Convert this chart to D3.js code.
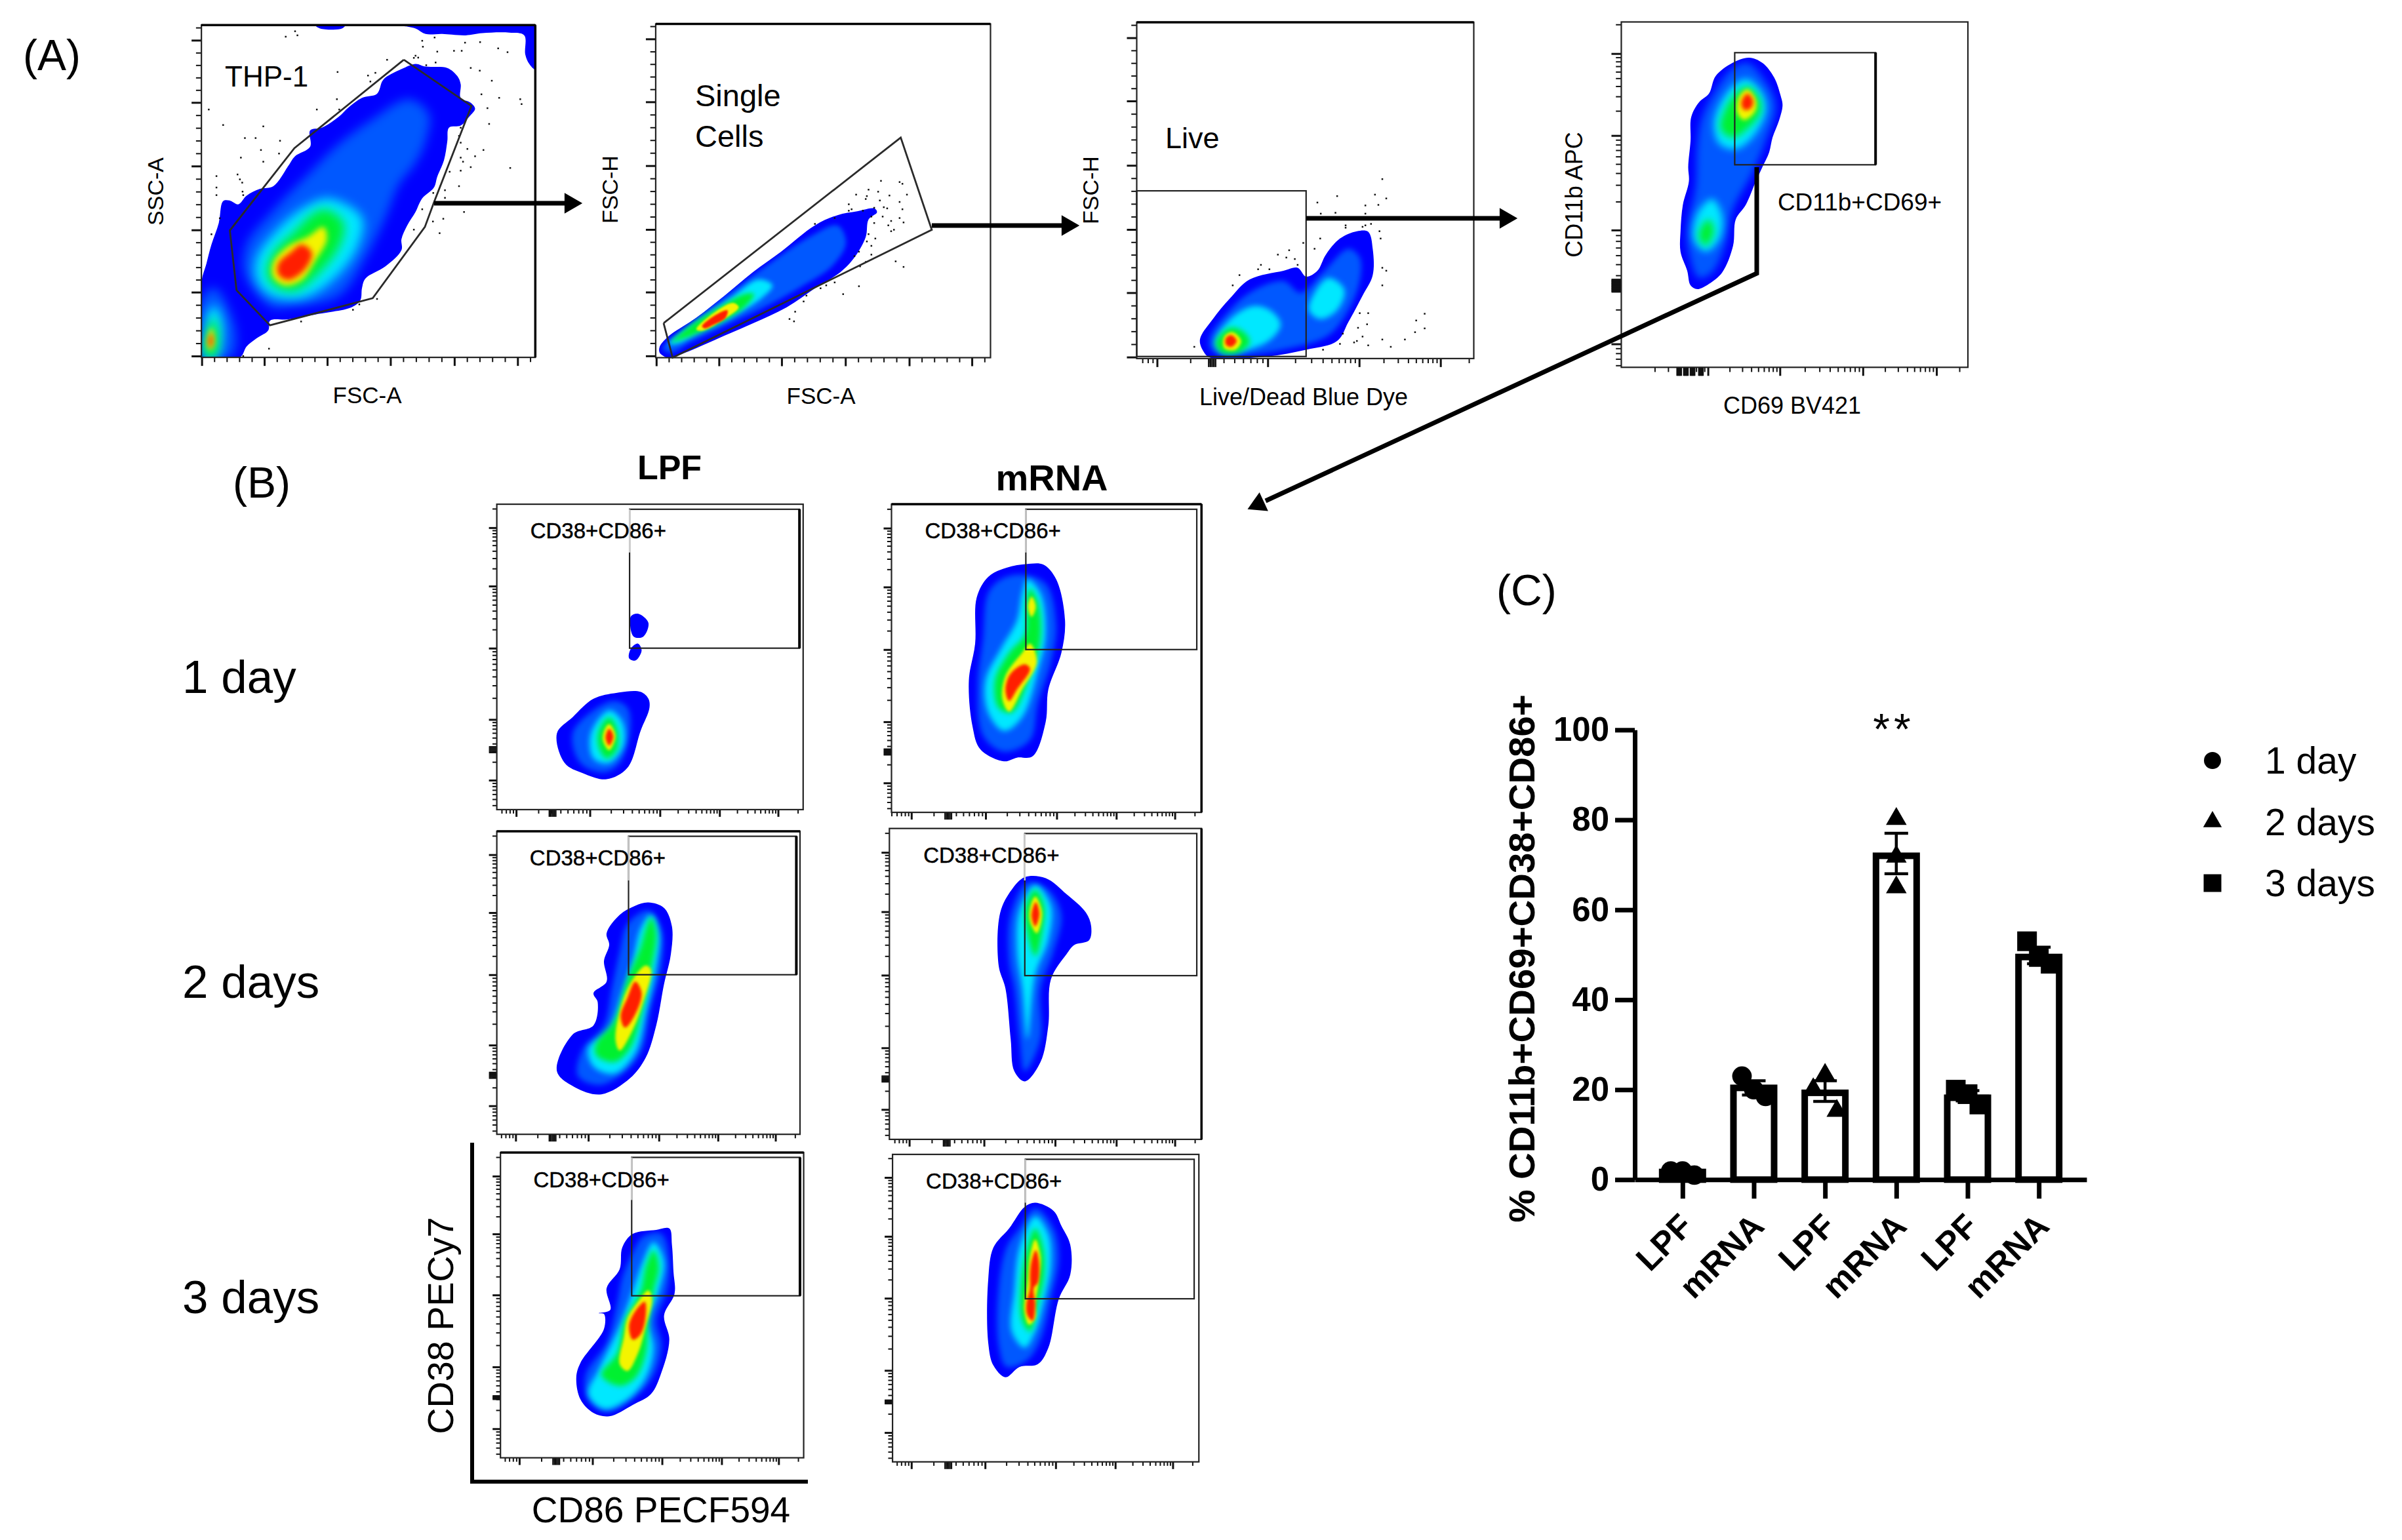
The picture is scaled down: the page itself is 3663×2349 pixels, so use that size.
<!DOCTYPE html>
<html>
<head>
<meta charset="utf-8">
<title>THP-1 gating and CD38+CD86+ activation</title>
<script src="https://d3js.org/d3.v7.min.js"></script>
<style>
body{ margin:0; background:#fff; }
text{ font-family:"Liberation Sans",Arial,sans-serif; fill:#000; }
</style>
</head>
<body>
<svg id="fig" width="3663" height="2349"></svg>
<script>
// bar chart (C)
const barCategories = ["LPF","mRNA","LPF","mRNA","LPF","mRNA"];
const barDays = ["1 day","1 day","2 days","2 days","3 days","3 days"];
const barMeans = [1.7,20.4,19.3,72,18.2,49.5];
const barErrLow = [1.3,18.8,17.4,68,17.5,48];
const barErrHigh = [2.1,22,22,77,19.8,51.7];
const barPoints = [[1.9,1.9,1],[23,20,18.5],[23.3,20.1,15.3],[80.2,71.8,65],[20,19,16.7],[53,49.5,48]];
const barSlots = [[-1,0,1],[-1,0,1],[0,-1,1],[0,0,0],[-1,0,1],[-1,0,1]];
const yTicks = [0,20,40,60,80,100];
const legendDays = ["1 day","2 days","3 days"];

const cropGate1 = [200,0,800,650];
const cropGate23 = [950,0,1350,700];
const cropGate4 = [2300,0,800,700];
const cropB12 = [650,680,1250,1100];
const cropB3 = [650,1700,1250,649];

const thp1Gate = [[815,220],[1017,390],[905,745],[878,835],[722,1097],[415,1197],[315,1068],[295,848],[488,545],[815,220]];
const singleGate = [[72,1104],[492,470],[547,785],[88,1222],[72,1104]];

const thp1Contours = [
 [[[760,285],[815,250],[850,235],[880,245],[945,250],[975,280],[985,310],[985,360],[1015,378],[1028,400],[1010,430],[985,462],[950,470],[945,520],[935,590],[915,650],[905,690],[870,730],[850,780],[825,830],[808,880],[808,920],[760,980],[700,1025],[690,1060],[685,1105],[660,1130],[560,1155],[470,1175],[415,1180],[410,1215],[375,1245],[345,1275],[325,1315],[210,1315],[210,1040],[225,970],[240,900],[262,820],[275,740],[295,738],[320,752],[345,720],[385,695],[425,685],[470,610],[490,575],[535,540],[535,480],[570,470],[620,430],[650,395],[690,360],[735,345],[750,300]],
  [[550,92],[640,92],[630,105],[565,105]],
  [[805,92],[1208,92],[1208,255],[1190,235],[1178,200],[1175,130],[1130,120],[1050,122],[1000,130],[930,125],[880,125],[850,105]]],
 [[[830,365],[890,420],[880,520],[850,600],[800,680],[760,800],[700,950],[620,1090],[470,1130],[420,1130],[340,1010],[345,900],[420,780],[530,640],[620,530],[720,440]],
  [[250,1060],[310,1200],[310,1290],[295,1315],[210,1315],[210,1100]]],
 [[[590,730],[690,800],[680,900],[620,1010],[520,1095],[420,1090],[375,1030],[375,950],[440,840],[520,760]],
  [[250,1125],[272,1180],[270,1270],[255,1315],[215,1315],[222,1220],[230,1150]]],
 [[[580,770],[635,820],[625,900],[565,1000],[490,1070],[425,1050],[405,1000],[425,930],[490,850],[540,790]],
  [[245,1170],[260,1230],[250,1310],[222,1310],[225,1240]]],
 [[[575,835],[585,880],[550,960],[510,1030],[460,1050],[425,1020],[425,965],[470,905],[530,870]],
  [[240,1205],[248,1260],[236,1290],[228,1260]]],
 [[[510,900],[540,930],[520,990],[470,1030],[440,1010],[440,970],[480,925]],
  [[240,1225],[243,1262],[236,1280],[232,1255]]]
];
const singleContours = [
 [[[65,1185],[80,1150],[130,1085],[180,1010],[230,930],[280,860],[340,770],[380,735],[415,722],[445,712],[450,725],[435,750],[430,810],[410,880],[385,930],[340,985],[290,1050],[230,1105],[170,1155],[110,1205],[85,1222],[78,1222],[65,1205]]],
 [[[70,1190],[100,1140],[170,1030],[260,900],[330,810],[380,770],[395,830],[370,910],[320,975],[260,1040],[190,1105],[120,1170],[85,1205]]],
 [[[80,1175],[130,1100],[190,1020],[240,955],[265,975],[245,1020],[190,1085],[140,1130],[95,1175]]],
 [[[85,1170],[125,1105],[170,1050],[215,1005],[232,1005],[215,1050],[170,1105],[130,1140],[95,1165]]],
 [[[130,1125],[160,1070],[195,1035],[205,1050],[175,1095],[140,1130]]],
 [[[140,1115],[165,1075],[185,1060],[182,1085],[160,1110],[145,1122]]]
];
const liveContours = [
 [[[1022,1160],[1045,1090],[1075,1020],[1110,955],[1170,925],[1195,915],[1210,945],[1230,925],[1245,870],[1270,815],[1300,790],[1320,792],[1328,850],[1328,940],[1310,1010],[1285,1100],[1265,1165],[1210,1195],[1140,1218],[1040,1222],[1028,1200]]],
 [[[1040,1150],[1070,1070],[1110,1000],[1170,960],[1200,1000],[1240,930],[1285,850],[1305,880],[1305,960],[1285,1060],[1250,1145],[1180,1190],[1060,1215],[1040,1190]]],
 [[[1052,1150],[1085,1075],[1120,1045],[1150,1065],[1165,1110],[1140,1170],[1065,1205],[1050,1180]],
  [[1250,950],[1278,990],[1265,1060],[1235,1090],[1215,1060],[1225,1000]]],
 [[[1050,1170],[1075,1120],[1100,1135],[1110,1170],[1090,1205],[1060,1205]]],
 [[[1065,1150],[1080,1135],[1095,1165],[1085,1195],[1065,1190]]],
 [[[1068,1155],[1078,1145],[1087,1165],[1078,1185],[1068,1178]]]
];
const cd69Contours = [
 [[[720,197],[760,215],[795,265],[815,330],[820,360],[810,410],[790,470],[780,520],[760,570],[740,620],[710,700],[680,750],[672,840],[640,930],[600,970],[565,988],[545,975],[535,925],[515,860],[515,790],[522,700],[540,620],[538,570],[545,480],[547,400],[570,350],[600,320],[620,260],[670,215]]],
 [[[715,215],[770,280],[800,360],[770,480],[730,590],[670,720],[650,830],[610,930],[570,950],[540,860],[535,780],[560,640],[565,500],[580,400],[630,290],[670,235]]],
 [[[715,270],[760,320],[770,380],[730,470],[680,510],[630,490],[615,420],[640,340],[680,285]],
  [[610,680],[640,740],[630,820],[590,860],[555,820],[565,730]]],
 [[[715,295],[748,330],[755,380],[715,440],[670,470],[635,440],[650,370],[680,320]],
  [[600,750],[615,790],[590,840],[570,810],[580,770]]],
 [[[715,305],[740,340],[738,380],[705,410],[685,385],[690,330]]],
 [[[715,320],[732,345],[725,370],[705,375],[697,350]]]
];
const lpf1Contours = [
 [[[250,625],[280,590],[320,550],[365,537],[410,535],[425,550],[427,570],[410,620],[385,700],[345,725],[300,712],[265,690]],
  [[405,365],[425,385],[415,415],[397,415],[390,390],[392,370]],
  [[405,430],[412,445],[400,467],[388,462],[392,440]]],
 [[[280,625],[320,575],[360,555],[385,570],[390,620],[370,690],[340,710],[295,690]]],
 [[[350,575],[375,600],[378,650],[350,690],[320,680],[315,625]]],
 [[[350,590],[365,615],[365,660],[345,680],[330,655],[330,620]]],
 [[[350,605],[362,630],[350,662],[338,640],[342,615]]],
 [[[350,615],[358,632],[350,652],[343,634]]]
];
const mrna1Contours = [
 [[[1150,257],[1180,258],[1205,290],[1222,380],[1215,450],[1190,530],[1185,600],[1160,675],[1130,678],[1105,686],[1060,660],[1045,610],[1038,510],[1050,430],[1053,330],[1075,285],[1110,265]]],
 [[[1140,280],[1185,300],[1205,390],[1195,470],[1170,560],[1155,640],[1105,665],[1065,630],[1055,520],[1065,420],[1075,320],[1100,290]]],
 [[[1150,290],[1175,320],[1185,410],[1170,490],[1140,590],[1105,620],[1075,580],[1070,510],[1100,440],[1130,380],[1140,320]]],
 [[[1155,310],[1170,340],[1175,420],[1155,500],[1120,580],[1095,570],[1088,510],[1115,450],[1145,410],[1148,340]]],
 [[[1158,328],[1166,350],[1158,372],[1151,350]],
  [[1155,430],[1168,470],[1140,530],[1115,578],[1102,550],[1108,500],[1140,450]]],
 [[[1145,475],[1155,485],[1130,530],[1115,555],[1108,530],[1118,495]]]
];
const lpf2Contours = [
 [[[425,993],[455,1005],[470,1045],[468,1105],[455,1170],[440,1260],[420,1330],[390,1375],[335,1410],[285,1395],[250,1360],[280,1280],[320,1260],[328,1210],[320,1190],[345,1165],[340,1120],[350,1085],[345,1060],[370,1020],[400,1000]]],
 [[[425,1010],[450,1050],[450,1130],[430,1220],[410,1320],[370,1370],[330,1390],[290,1370],[300,1310],[340,1260],[355,1180],[370,1100],[385,1040]]],
 [[[430,1020],[445,1060],[440,1130],[420,1230],[400,1320],[360,1365],[320,1350],[310,1310],[350,1270],[375,1190],[395,1120],[410,1050]]],
 [[[430,1025],[440,1060],[430,1140],[415,1220],[390,1310],[360,1340],[325,1325],[325,1300],[360,1250],[385,1160],[410,1090],[420,1050]]],
 [[[420,1130],[430,1140],[415,1210],[395,1270],[370,1315],[362,1290],[375,1210],[395,1160]]],
 [[[400,1165],[412,1190],[398,1240],[380,1265],[372,1240],[385,1200]]]
];
const mrna2Contours = [
 [[[1145,938],[1185,940],[1225,975],[1262,1015],[1272,1045],[1268,1075],[1240,1085],[1225,1105],[1195,1160],[1190,1260],[1175,1340],[1145,1382],[1125,1360],[1118,1290],[1108,1180],[1095,1130],[1098,1015],[1120,965]]],
 [[[1150,950],[1190,965],[1215,1020],[1200,1100],[1175,1180],[1175,1290],[1145,1360],[1135,1290],[1125,1180],[1115,1120],[1118,1020]]],
 [[[1165,955],[1195,1000],[1190,1075],[1165,1150],[1150,1290],[1140,1180],[1130,1100],[1135,1010]]],
 [[[1165,965],[1182,1000],[1178,1060],[1165,1110],[1150,1060],[1147,1000]]],
 [[[1165,980],[1178,1015],[1168,1060],[1155,1035],[1155,1005]]],
 [[[1166,992],[1173,1018],[1165,1045],[1158,1022]]]
];
const lpf3Contours = [
 [[[465,420],[470,480],[473,580],[475,660],[455,740],[465,830],[450,950],[430,1030],[395,1070],[350,1112],[320,1100],[295,1050],[287,970],[295,915],[340,790],[340,735],[330,732],[352,720],[345,640],[370,570],[375,490],[395,440],[440,425]]],
 [[[450,440],[465,540],[460,650],[440,760],[450,850],[435,960],[400,1040],[345,1095],[310,1050],[305,960],[345,840],[365,700],[375,600],[395,510],[415,450]]],
 [[[435,470],[455,540],[445,650],[425,760],[435,860],[420,970],[385,1050],[340,1085],[310,1030],[330,940],[370,780],[395,650],[415,540]]],
 [[[435,500],[445,560],[435,650],[425,760],[420,880],[400,970],[370,1000],[335,960],[365,880],[380,760],[410,650],[420,560]]],
 [[[425,648],[432,680],[420,780],[405,880],[385,945],[370,920],[378,820],[385,750],[405,690]]],
 [[[418,690],[420,740],[410,810],[395,830],[388,780],[398,730]]]
];
const mrna3Contours = [
 [[[1165,325],[1200,355],[1215,410],[1232,480],[1232,590],[1210,680],[1190,860],[1170,920],[1135,930],[1108,968],[1085,925],[1075,840],[1075,610],[1085,490],[1115,420],[1145,340]]],
 [[[1165,345],[1200,420],[1210,530],[1195,680],[1175,830],[1150,905],[1110,930],[1095,850],[1095,640],[1110,490],[1135,420]]],
 [[[1165,375],[1190,440],[1195,560],[1180,700],[1165,800],[1145,860],[1120,800],[1125,650],[1135,490]]],
 [[[1165,420],[1180,490],[1182,590],[1170,700],[1155,800],[1140,760],[1138,620],[1150,490]]],
 [[[1165,460],[1175,520],[1172,610],[1165,700],[1165,750],[1153,775],[1144,720],[1150,620],[1155,520]]],
 [[[1166,500],[1172,540],[1170,620],[1162,640],[1165,700],[1160,760],[1150,740],[1148,700],[1155,640],[1155,590],[1158,540]]]
];

const thp1Dots = [[462,135],[490,115],[497,130],[870,150],[872,172],[907,138],[998,157],[1043,155],[1097,178],[1125,192],[915,190],[965,187],[988,187],[850,205],[858,212],[845,213],[910,230],[882,240],[765,220],[708,278],[730,268],[715,300],[617,265],[1015,250],[1042,260],[1078,297],[1047,347],[1100,360],[1163,365],[1167,383],[1065,398],[1070,456],[232,403],[555,403],[615,365],[622,403],[275,460],[395,465],[340,508],[372,508],[445,518],[388,552],[442,565],[328,580],[395,595],[255,648],[318,642],[325,660],[332,672],[255,690],[255,718],[333,705],[335,718],[985,470],[980,500],[985,525],[1005,548],[1053,552],[985,580],[1028,575],[992,595],[1015,615],[985,628],[1133,618],[952,632],[980,685],[938,700],[938,728],[903,710],[870,770],[995,780],[933,805],[902,815],[845,845],[922,858],[735,1100],[682,1120],[663,1140],[508,1183],[412,1283],[335,1310],[240,862],[265,803]];
const singleDots = [[457,618],[490,622],[495,628],[435,648],[413,665],[452,655],[432,670],[472,668],[503,665],[430,680],[455,685],[490,690],[400,698],[445,710],[462,708],[468,712],[495,715],[425,720],[405,715],[440,740],[460,740],[475,755],[490,745],[497,760],[470,770],[445,762],[480,785],[475,790],[435,800],[447,815],[432,825],[440,840],[418,860],[410,875],[440,870],[430,895],[420,910],[483,893],[497,912],[375,965],[360,975],[418,978],[350,985],[390,1005],[325,1010],[320,1030],[305,1065],[295,1090],[303,1098],[340,765],[375,745],[400,720]];
const liveDots = [[1345,612],[1332,665],[1352,678],[1265,670],[1230,692],[1338,700],[1315,702],[1315,730],[1262,727],[1236,730],[1335,745],[1280,770],[1280,778],[1325,765],[1315,770],[1310,775],[1340,790],[1342,815],[1235,815],[1225,850],[1205,830],[1180,855],[1160,870],[1190,885],[1175,880],[1195,905],[1130,905],[1145,920],[1125,920],[1092,940],[1080,975],[1345,915],[1352,925],[1345,975],[1420,1072],[1405,1095],[1420,1122],[1403,1135],[1320,1070],[1305,1070],[1318,1108],[1302,1120],[1275,1140],[1310,1150],[1300,1165],[1345,1160],[1385,1160],[1320,1180],[1360,1185],[1295,1170],[1270,1175],[1240,1195],[1012,1185]];

const levelColors = ["#0000ff","#0058ff","#00e8ff","#00f030","#f4f400","#ff1e00"];

// box, x major, y major, x/y scale kind, clusters of stacked ticks
const panels = [
 {crop:cropGate1, box:[210,1208,92,1315], xMajor:[211,398,586,775,966,1155], yMajor:[148,377,611,846,1075,1310], kind:"lin", xKind:"lin", contours:thp1Contours, dots:thp1Dots, blur:8, heavy:["top","right"], poly:thp1Gate},
 {crop:cropGate23, box:[58,651,82,1222], xMajor:[59,170,281,394,507,618], yMajor:[133,348,566,784,998,1216], kind:"lin", xKind:"lin", contours:singleContours, dots:singleDots, blur:3.5, heavy:["top"], poly:singleGate},
 {crop:cropGate23, box:[910,1507,76,1225], xMajor:[946,1142,1304,1448], yMajor:[129,345,565,784,1000,1220], kind:"lin", xKind:"log", xCluster:[1043], contours:liveContours, dots:liveDots, blur:4.5, heavy:["top"], gate:[910,1210,652,1218]},
 {crop:cropGate4, box:[338,1374,75,1255], xMajor:[597,812,1060,1280], yMajor:[183,463,786,1175], kind:"log", xKind:"log", xCluster:[510,530,550,575], yCluster:[960,975,990], contours:cd69Contours, blur:6, gate:[677,1098,180,563], thickGateRight:true},
 {crop:cropB12, box:[135,721,127,791], xMajor:[172,313,447,561,673], yMajor:[178,305,440,595,727], kind:"log", xKind:"log", xCluster:[241], yCluster:[660], contours:lpf1Contours, blur:4, gate:[389,714,138,440], fadeTo:232, thickGateRight:true, tag:[199,185]},
 {crop:cropB12, box:[890,1483,127,797], xMajor:[928,1070,1206,1320,1432], yMajor:[179,307,443,600,733], kind:"log", xKind:"log", xCluster:[998], yCluster:[665], contours:mrna1Contours, blur:4, heavy:["top","right"], gate:[1147,1474,138,443], fadeTo:232, tag:[954,185]},
 {crop:cropB12, box:[135,715,838,1497], xMajor:[171,310,445,558,668], yMajor:[889,1015,1150,1303,1435], kind:"log", xKind:"log", xCluster:[241], yCluster:[1368], contours:lpf2Contours, blur:4, heavy:["top"], gate:[387,708,849,1150], fadeTo:945, thickGateRight:true, tag:[198,896]},
 {crop:cropB12, box:[886,1483,832,1508], xMajor:[924,1067,1203,1320,1432], yMajor:[884,1013,1151,1309,1443], kind:"log", xKind:"log", xCluster:[995], yCluster:[1376], contours:mrna2Contours, blur:4, heavy:["right"], gate:[1145,1474,843,1152], fadeTo:945, tag:[951,890]},
 {crop:cropB3, box:[142,722,140,1265], xMajor:[178,318,451,565,674], yMajor:[227,440,665,930,1158], kind:"log", xKind:"log", xCluster:[248], yCluster:[1042], contours:lpf3Contours, blur:4, heavy:["top"], gate:[393,715,158,668], fadeTo:315, thickGateRight:true, tag:[205,240]},
 {crop:cropB3, box:[892,1478,147,1280], xMajor:[928,1069,1204,1318,1428], yMajor:[232,449,677,943,1172], kind:"log", xKind:"log", xCluster:[998], yCluster:[1058], contours:mrna3Contours, blur:4, gate:[1146,1469,165,679], fadeTo:325, tag:[956,245]}
];

const svg = d3.select("#fig");
const defs = svg.append("defs");

function blurId(s){
  var id = "blur"+String(s).replace(".","_");
  if(defs.select("#"+id).empty()){
    defs.append("filter").attr("id",id)
      .attr("x","-60%").attr("y","-60%").attr("width","220%").attr("height","220%")
      .attr("color-interpolation-filters","sRGB")
      .append("feGaussianBlur").attr("stdDeviation",s);
  }
  return "url(#"+id+")";
}

function minorTicks(major, kind, box0, box1, flipped){
  // minors between majors: 4 even ones on linear axes, log spaced on log axes
  var out = [];
  var step = d3.mean(d3.pairs(major), function(p){ return p[1]-p[0]; });
  var ext = [major[0]-step].concat(major).concat([major[major.length-1]+step]);
  d3.pairs(ext).forEach(function(p){
    if(kind=="lin"){
      [.2,.4,.6,.8].forEach(function(f){ out.push(p[0]+(p[1]-p[0])*f); });
    }else{
      d3.range(2,10).forEach(function(k){
        var f = Math.log10(k);
        out.push(flipped ? p[1]-(p[1]-p[0])*f : p[0]+(p[1]-p[0])*f);
      });
    }
  });
  return out.filter(function(v){ return v>box0 && v<box1; });
}

panels.forEach(function(p,i){
  var c = p.crop;
  var x = d3.scaleLinear().domain([0,1568]).range([c[0],c[0]+c[2]]);
  var y = d3.scaleLinear().domain([0,1568]).range([c[1],c[1]+c[3]]);
  var b = p.box;
  var g = svg.append("g").attr("class","panel");
  var line = d3.line().x(function(d){return x(d[0]);}).y(function(d){return y(d[1]);}).curve(d3.curveCatmullRomClosed.alpha(.5));

  defs.append("clipPath").attr("id","box"+i).append("rect")
    .attr("x",x(b[0])).attr("y",y(b[2])).attr("width",x(b[1])-x(b[0])).attr("height",y(b[3])-y(b[2]));
  defs.append("clipPath").attr("id","blob"+i).attr("clip-path","url(#box"+i+")")
    .selectAll("path").data(p.contours[0]).join("path").attr("d",line);

  // density: outer level keeps a sharp edge, the inner ones get blurred into each other
  var dens = g.append("g").attr("clip-path","url(#blob"+i+")");
  dens.append("rect").attr("x",x(b[0])).attr("y",y(b[2])).attr("width",x(b[1])-x(b[0])).attr("height",y(b[3])-y(b[2])).attr("fill",levelColors[0]);
  p.contours.slice(1).forEach(function(rings,l){
    dens.append("g").attr("filter",blurId(l>=3 ? p.blur/2 : p.blur))
      .selectAll("path").data(rings).join("path").attr("d",line).attr("fill",levelColors[l+1]);
  });

  if(p.dots){
    g.append("g").selectAll("rect").data(p.dots).join("rect")
      .attr("x",function(d){return x(d[0])-1.25;}).attr("y",function(d){return y(d[1])-1.25;})
      .attr("width",2.5).attr("height",2.5).attr("fill","#111");
  }

  // ticks
  var bottom = y(b[3]), left = x(b[0]);
  var xMin = minorTicks(p.xMajor,p.xKind,b[0],b[1],false);
  var yMin = minorTicks(p.yMajor,p.kind,b[2],b[3],p.kind=="log");
  function tickGroup(axis,tx,ty,w){
    var t = g.append("g").attr("transform","translate("+tx+","+ty+")").call(axis);
    t.select(".domain").remove();
    t.selectAll("line").attr("stroke","#111").attr("stroke-width",w);
  }
  var inB = p.crop===cropB12 || p.crop===cropB3;
  var lenX = inB ? 11 : 13, lenY = inB ? 12 : 15;
  tickGroup(d3.axisBottom(x).tickValues(xMin).tickSize(lenX*.55).tickFormat(""),0,bottom,2);
  tickGroup(d3.axisBottom(x).tickValues(p.xMajor).tickSize(lenX).tickFormat(""),0,bottom,3);
  tickGroup(d3.axisLeft(y).tickValues(yMin).tickSize(lenY*.55).tickFormat(""),left,0,2);
  tickGroup(d3.axisLeft(y).tickValues(p.yMajor).tickSize(lenY).tickFormat(""),left,0,3);
  if(p.xCluster){
    var xc = []; p.xCluster.forEach(function(v){ d3.range(-6,7,3).forEach(function(k){ xc.push(v+k); }); });
    tickGroup(d3.axisBottom(x).tickValues(xc).tickSize(lenX).tickFormat(""),0,bottom,2.5);
  }
  if(p.yCluster){
    var yc = []; p.yCluster.forEach(function(v){ d3.range(-6,7,3).forEach(function(k){ yc.push(v+k); }); });
    tickGroup(d3.axisLeft(y).tickValues(yc).tickSize(lenY).tickFormat(""),left,0,2.5);
  }

  // frame
  g.append("rect").attr("x",x(b[0])).attr("y",y(b[2])).attr("width",x(b[1])-x(b[0])).attr("height",y(b[3])-y(b[2]))
    .attr("fill","none").attr("stroke","#222").attr("stroke-width",2.2);
  (p.heavy||[]).forEach(function(side){
    var s = side=="top" ? [b[0],b[2],b[1],b[2]] : [b[1],b[2],b[1],b[3]];
    g.append("line").attr("x1",x(s[0])).attr("y1",y(s[1])).attr("x2",x(s[2])).attr("y2",y(s[3])).attr("stroke","#000").attr("stroke-width",3.5);
  });

  // gates
  if(p.poly){
    g.append("path").attr("d",d3.line().x(function(d){return x(d[0]);}).y(function(d){return y(d[1]);})(p.poly))
      .attr("fill","none").attr("stroke","#2a2a2a").attr("stroke-width",2.8);
  }
  if(p.gate){
    var r = p.gate;
    g.append("rect").attr("x",x(r[0])).attr("y",y(r[2])).attr("width",x(r[1])-x(r[0])).attr("height",y(r[3])-y(r[2]))
      .attr("fill","none").attr("stroke","#222").attr("stroke-width",2.2);
    if(p.thickGateRight){
      g.append("line").attr("x1",x(r[1])).attr("x2",x(r[1])).attr("y1",y(r[2])).attr("y2",y(r[3])).attr("stroke","#000").attr("stroke-width",4);
    }
    if(p.fadeTo){
      g.append("line").attr("x1",x(r[0])).attr("x2",x(r[0])).attr("y1",y(r[2])).attr("y2",y(p.fadeTo)).attr("stroke","#ccc").attr("stroke-width",2.4);
    }
  }
  if(p.tag){
    g.append("text").attr("x",x(p.tag[0])).attr("y",y(p.tag[1])).attr("dominant-baseline","central")
      .attr("font-size",33).attr("stroke","#000").attr("stroke-width",.5).text("CD38+CD86+");
  }
});

// text
function label(s,px,py,size,opts){
  opts = opts||{};
  var t = svg.append("text").attr("x",px).attr("y",py).attr("font-size",size)
    .attr("dominant-baseline","central").attr("text-anchor",opts.anchor||"middle")
    .attr("font-weight",opts.bold?"bold":"normal").text(s);
  if(opts.rot) t.attr("transform","rotate("+opts.rot+" "+px+" "+py+")");
  return t;
}
label("(A)",35,84,66,{anchor:"start"});
label("(B)",355,736,66,{anchor:"start"});
label("(C)",2282,900,66,{anchor:"start"});
label("THP-1",343,116,44,{anchor:"start"});
label("SSC-A",237,292,34,{rot:-90});
label("FSC-A",560,602,35);
label("FSC-H",930,289,34,{rot:-90});
label("Single",1060,145,47,{anchor:"start"});
label("Cells",1060,207,47,{anchor:"start"});
label("FSC-A",1252,603,35);
label("FSC-H",1663,290,34,{rot:-90});
label("Live",1777,210,45,{anchor:"start"});
label("Live/Dead Blue Dye",1988,605,36);
label("CD69 BV421",2733,618,36);
label("CD11b APC",2400,297,36,{rot:-90});
label("CD11b+CD69+",2836,308,37);
label("LPF",1021,713,52,{bold:true});
label("mRNA",1604,728,56,{bold:true});
label("1 day",278,1032,71,{anchor:"start"});
label("2 days",278,1497,71,{anchor:"start"});
label("3 days",278,1978,71,{anchor:"start"});
label("CD38 PECy7",672,2022,55.7,{rot:-90});
label("CD86 PECF594",1008,2303,55);

// L shaped axis marks next to the bottom-left panel, and gating arrows
const blackLines = [
  {pts:[[720,1743],[720,2260],[1232,2260]],w:6},
  {pts:[[2679,255],[2679,417],[1930,764]],w:7}
];
const arrows = [
  {from:[662,310],to:[862,310],w:7},
  {from:[1421,344],to:[1620,344],w:7},
  {from:[1992,333],to:[2288,333],w:7}
];
blackLines.forEach(function(l){
  svg.append("path").attr("d",d3.line()(l.pts)).attr("fill","none").attr("stroke","#000").attr("stroke-width",l.w).attr("stroke-linejoin","miter");
});
arrows.forEach(function(a){
  svg.append("line").attr("x1",a.from[0]).attr("y1",a.from[1]).attr("x2",a.to[0]).attr("y2",a.to[1]).attr("stroke","#000").attr("stroke-width",a.w);
  svg.append("path").attr("d",d3.symbol(d3.symbolTriangle,430)()).attr("fill","#000")
    .attr("transform","translate("+(a.to[0]+8)+","+a.to[1]+") rotate(90)");
});
svg.append("path").attr("d",d3.symbol(d3.symbolTriangle,430)()).attr("fill","#000")
  .attr("transform","translate(1919,769) rotate(-114.8)");

// bar chart
const yBar = d3.scaleLinear().domain([0,100]).range([1799.3,1113.3]);
const xBar = d3.scalePoint().domain(d3.range(barCategories.length)).range([2493,3182]).padding(.67);
const slot = d3.scaleLinear().domain([-1,1]).range([-18,18]);
const symbols = {"1 day":d3.symbolCircle,"2 days":d3.symbolTriangle,"3 days":d3.symbolSquare};
const symbolSize = {"1 day":700,"2 days":430,"3 days":900};
const legendSize = {"1 day":530,"2 days":350,"3 days":729};

const chart = svg.append("g");
chart.selectAll("rect.bar").data(barMeans).join("rect").attr("class","bar")
  .attr("x",function(d,i){return xBar(i)-31;}).attr("width",62)
  .attr("y",function(d){return yBar(d);}).attr("height",function(d){return yBar(0)-yBar(d);})
  .attr("fill","#fff").attr("stroke","#000").attr("stroke-width",10);

barMeans.forEach(function(m,i){
  var cx = xBar(i);
  chart.append("path").attr("d","M"+(cx-18)+","+yBar(barErrLow[i])+"H"+(cx+18)+"M"+cx+","+yBar(barErrLow[i])+"V"+yBar(barErrHigh[i])+"M"+(cx-18)+","+yBar(barErrHigh[i])+"H"+(cx+18))
    .attr("fill","none").attr("stroke","#000").attr("stroke-width",4.5);
  barPoints[i].forEach(function(v,j){
    chart.append("path").attr("d",d3.symbol(symbols[barDays[i]],symbolSize[barDays[i]])())
      .attr("transform","translate("+(cx+slot(barSlots[i][j]))+","+yBar(v)+")").attr("fill","#000");
  });
});

const yAxis = chart.append("g").attr("transform","translate(2493,0)")
  .call(d3.axisLeft(yBar).tickValues(yTicks).tickSize(30).tickSizeOuter(0).tickPadding(9));
yAxis.select(".domain").attr("stroke-width",7).attr("stroke","#000");
yAxis.selectAll("line").attr("stroke-width",7).attr("stroke","#000");
yAxis.selectAll("text").attr("font-size",51).attr("font-weight","bold").attr("font-family","Liberation Sans");

const xAxis = chart.append("g").attr("transform","translate(0,1799.3)")
  .call(d3.axisBottom(xBar).tickFormat(function(d){return barCategories[d];}).tickSize(29).tickSizeOuter(0));
xAxis.select(".domain").attr("stroke-width",7).attr("stroke","#000");
xAxis.selectAll("line").attr("stroke-width",7).attr("stroke","#000");
xAxis.selectAll("text").attr("font-size",51).attr("font-weight","bold").attr("font-family","Liberation Sans")
  .attr("text-anchor","end").attr("dy",0).attr("y",0)
  .attr("transform","translate(18,74) rotate(-45)");

label("% CD11b+CD69+CD38+CD86+",2320,1462,56.4,{rot:-90,bold:true});
label("**",2888,1112,66).attr("letter-spacing",6);

legendDays.forEach(function(d,i){
  var ly = d3.scalePoint().domain(legendDays).range([1160,1347]);
  svg.append("path").attr("d",d3.symbol(symbols[d],legendSize[d])()).attr("transform","translate(3374,"+ly(d)+")").attr("fill","#000");
  label(d,3454,ly(d),57,{anchor:"start"});
});
</script>
</body>
</html>
